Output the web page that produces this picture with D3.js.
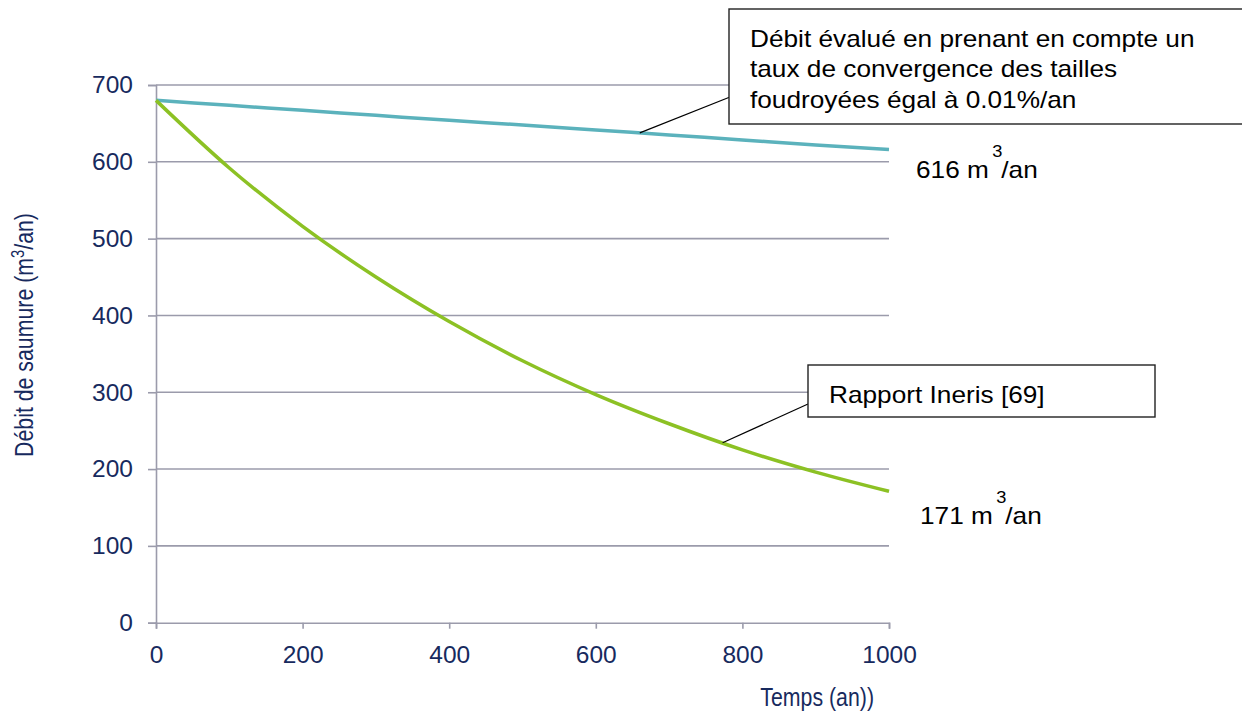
<!DOCTYPE html>
<html>
<head>
<meta charset="utf-8">
<script src="https://cdn.jsdelivr.net/npm/d3@7"></script>
<style>
  body { margin: 0; background: #fff; }
  svg { display: block; font-family: "Liberation Sans", Arial, sans-serif; }
  .tick-lbl { fill: #172a5e; font-size: 24.5px; }
  .axis-title { fill: #172a5e; font-size: 26px; }
  .note { fill: #000; font-size: 23px; }
</style>
</head>
<body>
<svg id="chart" width="1242" height="716"></svg>
<script>
// Débit de saumure vs temps — two decay scenarios
const X_TICKS = [0, 200, 400, 600, 800, 1000];
const Y_TICKS = [0, 100, 200, 300, 400, 500, 600, 700];

// every 100 years
const YEARS  = [0, 100, 200, 300, 400, 500, 600, 700, 800, 900, 1000];
const INERIS = [680, 592, 516, 450, 392, 341, 297, 259, 225, 196, 171];
const CONV   = [680, 673.5, 667, 660.5, 654, 648, 641.5, 635, 628.5, 622, 616];

const SERIES = [
  { key: "conv",   values: CONV,   color: "#5bb2bc" },
  { key: "ineris", values: INERIS, color: "#8cc124" },
];

const NOTES = [
  { key: "conv",   lines: ["Débit évalué en prenant en compte un", "taux de convergence des tailles", "foudroyées égal à 0.01%/an"],
    box: [729, 9, 1250, 124], from: [730, 97], at: 660 },
  { key: "ineris", lines: ["Rapport Ineris [69]"],
    box: [808, 365, 1155, 417], from: [808, 404], at: 773 },
];

const END_LBL = [
  { key: "conv",   text: "616 m", x: 916, y: 178 },
  { key: "ineris", text: "171 m", x: 920, y: 524 },
];

const svg = d3.select("#chart");
const x = d3.scaleLinear().domain([0, 1000]).range([156, 889]);
const y = d3.scaleLinear().domain([0, 700]).range([622.7, 85]);
const GRID = "#9b9bab";
const WIDE = 1.14;   // callout text is drawn a bit wider than plain Arial
const NARROW = 0.82; // axis titles use a condensed face

// Grid
svg.append("g").selectAll("line")
  .data(Y_TICKS.filter(d => d > 0))
  .join("line")
  .attr("x1", x(0)).attr("x2", x(1000))
  .attr("y1", d => y(d)).attr("y2", d => y(d))
  .attr("stroke", GRID).attr("stroke-width", 1.6);

// Axes
const yAxis = svg.append("g").attr("transform", `translate(${x(0)},0)`)
  .call(d3.axisLeft(y).tickValues(Y_TICKS).tickSize(8).tickPadding(15));
const xAxis = svg.append("g").attr("transform", `translate(0,${y(0)})`)
  .call(d3.axisBottom(x).tickValues(X_TICKS).tickFormat(d3.format("d")).tickSize(6).tickPadding(17));
[yAxis, xAxis].forEach(a => {
  a.select(".domain").attr("stroke", GRID).attr("stroke-width", 1.6);
  a.selectAll(".tick line").attr("stroke", GRID).attr("stroke-width", 1.6);
  a.selectAll(".tick text").attr("class", "tick-lbl").attr("fill", null).attr("font-size", null).attr("font-family", null);
});

// Axis titles
svg.append("text").attr("class", "axis-title")
  .attr("transform", `translate(874,706) scale(${NARROW},1)`)
  .attr("text-anchor", "end").text("Temps (an))");
const yt = svg.append("text").attr("class", "axis-title").attr("font-size", 27.5)
  .attr("transform", `translate(33,335) rotate(-90) scale(${NARROW},1)`).attr("text-anchor", "middle");
yt.append("tspan").text("Débit de saumure (m");
yt.append("tspan").attr("dy", -9).attr("font-size", 18).text("3");
yt.append("tspan").attr("dy", 9).text("/an)");

// Curves
const line = d3.line().x((d, i) => x(YEARS[i])).y(d => y(d)).curve(d3.curveMonotoneX);
svg.append("g").selectAll("path")
  .data(SERIES)
  .join("path")
  .attr("fill", "none")
  .attr("stroke", d => d.color)
  .attr("stroke-width", 3.5)
  .attr("d", d => line(d.values));

// Callouts
const valueAt = (key, yr) => {
  const s = SERIES.find(d => d.key === key).values;
  return d3.scaleLinear().domain(YEARS).range(s)(yr);
};
NOTES.forEach(n => {
  svg.append("line")
    .attr("x1", n.from[0]).attr("y1", n.from[1])
    .attr("x2", x(n.at)).attr("y2", y(valueAt(n.key, n.at)))
    .attr("stroke", "#000").attr("stroke-width", 1.2);
  const [x0, y0, x1, y1] = n.box;
  svg.append("rect")
    .attr("x", x0).attr("y", y0).attr("width", x1 - x0).attr("height", y1 - y0)
    .attr("fill", "#fff").attr("stroke", "#222").attr("stroke-width", 1.4);
  const t = svg.append("text").attr("class", "note")
    .attr("transform", `translate(${x0 + 21},${y0 + 38}) scale(${WIDE},1)`);
  n.lines.forEach((l, i) => {
    t.append("tspan").attr("x", 0).attr("y", i * 30.5).text(l);
  });
});

// End values
END_LBL.forEach(e => {
  const t = svg.append("text").attr("class", "note")
    .attr("transform", `translate(${e.x},${e.y}) scale(${WIDE},1)`);
  t.append("tspan").text(e.text);
  t.append("tspan").attr("dx", 3).attr("dy", -21).attr("font-size", 16).text("3");
  t.append("tspan").attr("dx", -1).attr("dy", 21).text("/an");
});
</script>
</body>
</html>
